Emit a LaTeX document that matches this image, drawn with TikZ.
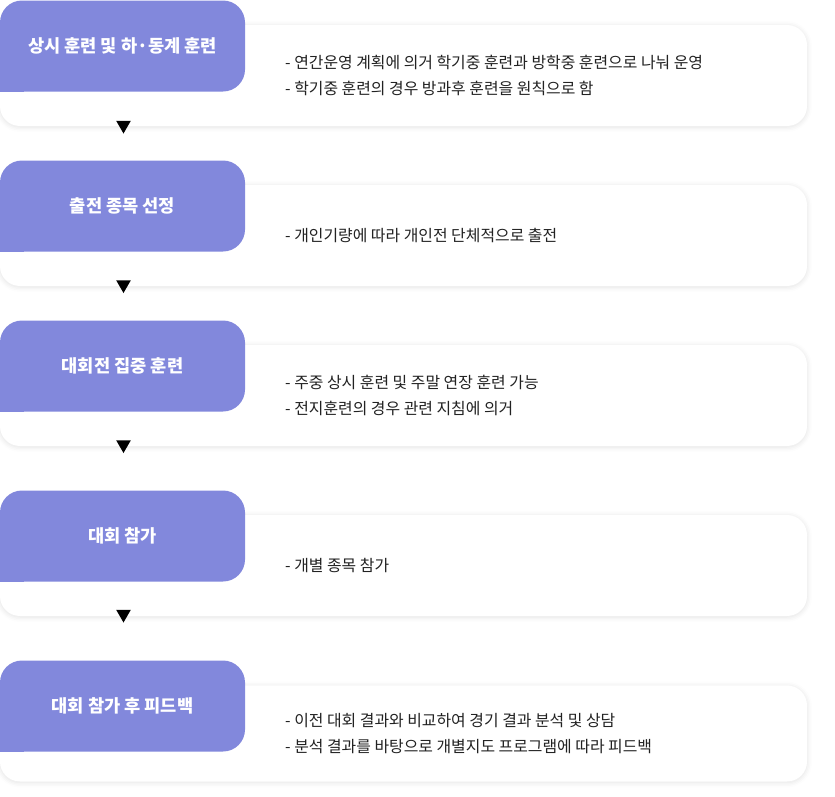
\documentclass[tikz,border=0pt]{standalone}
\usepackage{fontspec}
\setmainfont{Noto Sans CJK KR}
\usepackage{tikz}
\usetikzlibrary{shapes.geometric}
\usetikzlibrary{shadows.blur}
\definecolor{ppurple}{HTML}{8288DC}
\definecolor{ttext}{HTML}{222222}

\begin{document}
\begin{tikzpicture}[x=1pt,y=-1pt,
	stepbox/.style={fill=ppurple,rounded corners=22pt,minimum width=245pt,minimum height=91pt,inner sep=0pt,text=white,font=\fontsize{17.6}{20}\selectfont\bfseries},
	infobox/.style={fill=white,rounded corners=20pt,minimum width=807pt,minimum height=101pt,inner sep=0pt,blur shadow={shadow xshift=0pt,shadow yshift=-1pt,shadow blur radius=5pt,shadow opacity=12}},
	infotext/.style={anchor=west,align=left,inner sep=0pt,text=ttext,font=\fontsize{15.9}{26}\selectfont},
	arrowmark/.style={regular polygon,regular polygon sides=3,shape border rotate=180,fill=black,minimum size=17pt,inner sep=0pt}]
				\useasboundingbox (0,0) rectangle (835,796);
				% white boxes
				\node[infobox] (b0) at (403.5,75.5) {};
				\node[infobox] (b1) at (403.5,235.5) {};
				\node[infobox] (b2) at (403.5,395.5) {};
				\node[infobox] (b3) at (403.5,565.5) {};
				\node[infobox,minimum height=96pt] (b4) at (403.5,733.5) {};
				% purple steps
				\node[stepbox] (s0) at (122.5,46) {상시 훈련 및 하·동계 훈련};
				\node[stepbox] (s1) at (122.5,206) {출전 종목 선정};
				\node[stepbox] (s2) at (122.5,366) {대회전 집중 훈련};
				\node[stepbox] (s3) at (122.5,536) {대회 참가};
				\node[stepbox] (s4) at (122.5,706) {대회 참가 후 피드백};
				\foreach \s in {s0,s1,s2,s3,s4}
					\fill[ppurple] (\s.south west) rectangle ++(24,-24);
				% descriptions
				\node[infotext] (t0) at (285,75.5) {- 연간운영 계획에 의거 학기중 훈련과 방학중 훈련으로 나눠 운영\\- 학기중 훈련의 경우 방과후 훈련을 원칙으로 함};
				\node[infotext] (t1) at (285,235.5) {- 개인기량에 따라 개인전 단체적으로 출전};
				\node[infotext] (t2) at (285,395.5) {- 주중 상시 훈련 및 주말 연장 훈련 가능\\- 전지훈련의 경우 관련 지침에 의거};
				\node[infotext] (t3) at (285,565.5) {- 개별 종목 참가};
				\node[infotext] (t4) at (285,733.5) {- 이전 대회 결과와 비교하여 경기 결과 분석 및 상담\\- 분석 결과를 바탕으로 개별지도 프로그램에 따라 피드백};
				% arrows
				\node[arrowmark] (a0) at (123.5,125) {};
				\node[arrowmark] (a1) at (123.5,284.5) {};
				\node[arrowmark] (a2) at (123.5,444.5) {};
				\node[arrowmark] (a3) at (123.5,614) {};
			\end{tikzpicture}
\end{document}
